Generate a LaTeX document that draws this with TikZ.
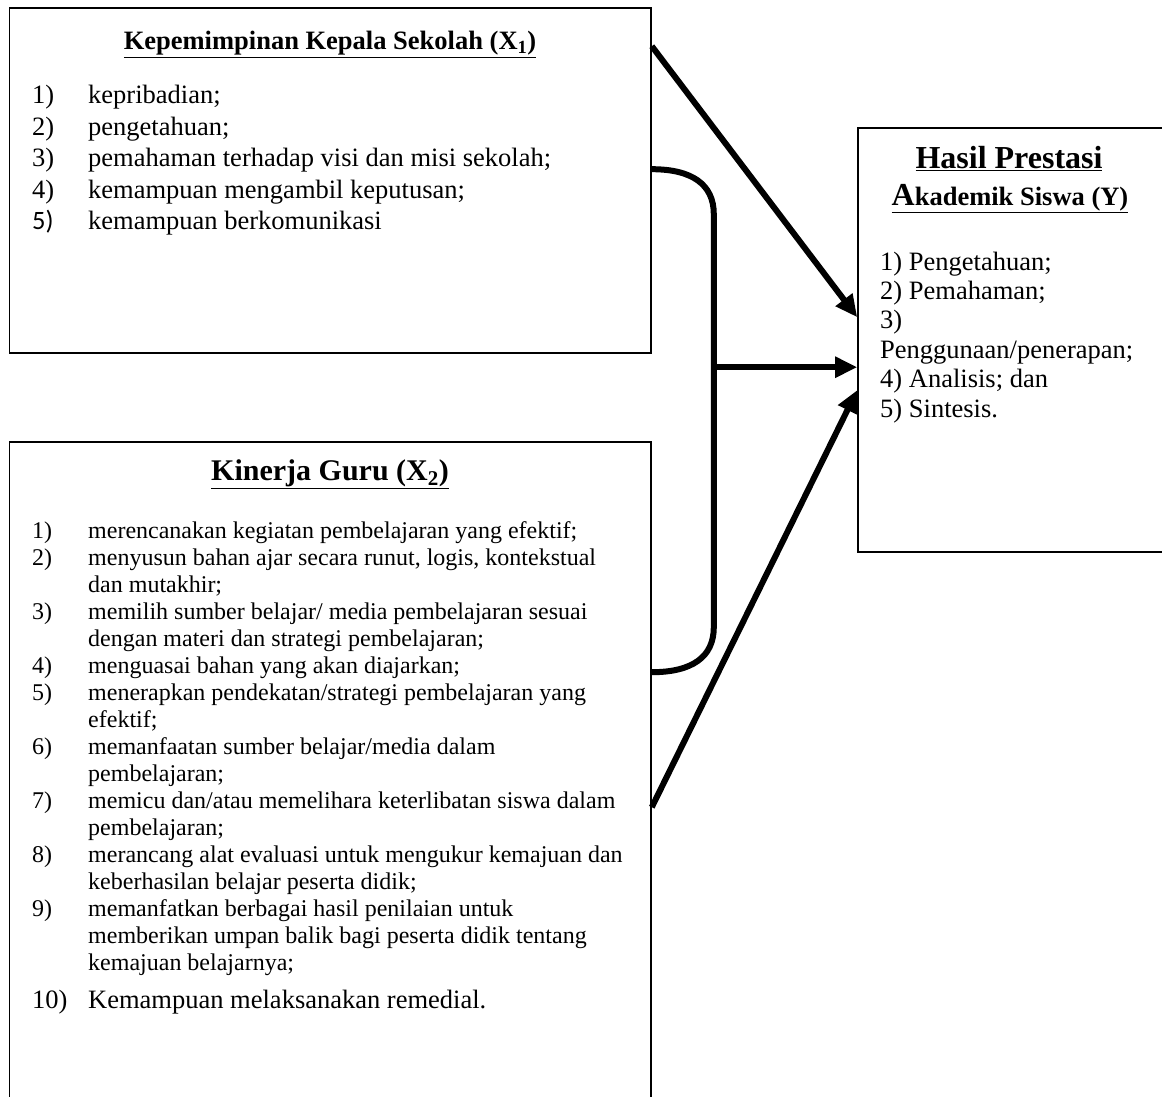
\documentclass[tikz,border=0pt]{standalone}
\usepackage{fontspec}
\setmainfont{Liberation Serif}
\newfontfamily\calibrifont{Carlito}
\usetikzlibrary{arrows.meta,calc}

\begin{document}
\begin{tikzpicture}[x=1pt,y=1pt,yscale=-1,
    box/.style={draw, line width=1.6pt, inner sep=0pt},
    arr/.style={line width=6pt, -{Triangle[length=22pt,width=20pt]}},
    brace/.style={line width=6pt},
    txt/.style={inner sep=0pt, anchor=base west}]
        \useasboundingbox (0,0) rectangle (1162,1097);
        \clip (0,0) rectangle (1162,1097);

        %Shape: Rectangle [kepsek]
        \node [box, minimum width=641.5, minimum height=345] (kepsek) at (330.25,180.5) {};
        %Shape: Rectangle [guru]
        \node [box, minimum width=641.5, minimum height=678] (guru) at (330.25,781) {};
        %Shape: Rectangle [hasil]
        \node [box, minimum width=317, minimum height=424] (hasil) at (1016.5,340) {};

        % Connector ends
        \coordinate (p1) at ($(kepsek.north east)+(0,39)$);
        \coordinate (p3) at ($(guru.north east)+(0,366)$);
        \coordinate (b1) at ($(kepsek.north east)+(0,162)$);
        \coordinate (b2) at ($(guru.north east)+(0,231)$);
        \coordinate (q1) at ($(hasil.north west)+(0,190)$);
        \coordinate (q2) at ($(hasil.north west)+(0,240)$);
        \coordinate (q3) at ($(hasil.north west)+(0,263)$);
        \coordinate (join) at ($(q2)+(-145,0)$);

        %Straight Lines
        \draw [arr] (p1) -- (q1);
        %Curve Lines
        \draw [brace] (b1) .. controls ($(b1)+(40,0)$) and ($(b1)+(62,15)$) .. ($(b1)+(62,45)$) -- ($(b2)+(62,-45)$) .. controls ($(b2)+(62,-15)$) and ($(b2)+(40,0)$) .. (b2);
        %Straight Lines
        \draw [arr] (join) -- (q2);
        %Straight Lines
        \draw [arr] (p3) -- (q3);

        % Text Node
        \node [inner sep=0pt, anchor=base, font=\bfseries\fontsize{26.5}{30}\selectfont] (kepsektitle) at (330,50) {\underline{Kepemimpinan Kepala Sekolah (X\textsubscript{1})}};
        % Text Node
        \node [txt, font=\fontsize{26.5}{31.5}\selectfont] (kepseklist) at (32,104) {\begin{tabular}[t]{@{}p{56pt}@{}l@{}}
            1) & kepribadian;\\
            2) & pengetahuan;\\
            3) & pemahaman terhadap visi dan misi sekolah;\\
            4) & kemampuan mengambil keputusan;\\
            {\calibrifont 5)} & kemampuan berkomunikasi
        \end{tabular}};

        % Text Node
        \node [inner sep=0pt, anchor=base, font=\bfseries\fontsize{30}{34}\selectfont] (gurutitle) at (330,480) {\underline{Kinerja Guru (X\textsubscript{2})}};
        % Text Node
        \node [txt, font=\fontsize{24}{27}\selectfont] (gurulist) at (32,538) {\begin{tabular}[t]{@{}p{56pt}@{}l@{}}
            1) & merencanakan kegiatan pembelajaran yang efektif;\\
            2) & menyusun bahan ajar secara runut, logis, kontekstual\\
               & dan mutakhir;\\
            3) & memilih sumber belajar/ media pembelajaran sesuai\\
               & dengan materi dan strategi pembelajaran;\\
            4) & menguasai bahan yang akan diajarkan;\\
            5) & menerapkan pendekatan/strategi pembelajaran yang\\
               & efektif;\\
            6) & memanfaatan sumber belajar/media dalam\\
               & pembelajaran;\\
            7) & memicu dan/atau memelihara keterlibatan siswa dalam\\
               & pembelajaran;\\
            8) & merancang alat evaluasi untuk mengukur kemajuan dan\\
               & keberhasilan belajar peserta didik;\\
            9) & memanfatkan berbagai hasil penilaian untuk\\
               & memberikan umpan balik bagi peserta didik tentang\\
               & kemajuan belajarnya;
        \end{tabular}};
        % Text Node
        \node [txt, font=\fontsize{26.5}{30}\selectfont] (gurulast) at (32,1008) {\makebox[56pt][l]{10)}Kemampuan melaksanakan remedial.};

        % Text Node
        \node [inner sep=0pt, anchor=base, font=\bfseries\fontsize{32}{36}\selectfont] (hasiltitle) at (1009,168) {\underline{Hasil Prestasi}};
        % Text Node
        \node [inner sep=0pt, anchor=base, font=\bfseries\fontsize{26.5}{30}\selectfont] (hasilsub) at (1010,205) {\underline{{\fontsize{32}{36}\selectfont A}kademik Siswa (Y)}};
        % Text Node
        \node [txt, font=\fontsize{26.5}{29.4}\selectfont] (hasillist) at (880,270) {\begin{tabular}[t]{@{}l@{}}
            1) Pengetahuan;\\
            2) Pemahaman;\\
            3)\\
            Penggunaan/penerapan;\\
            4) Analisis; dan\\
            5) Sintesis.
        \end{tabular}};

\end{tikzpicture}
\end{document}
